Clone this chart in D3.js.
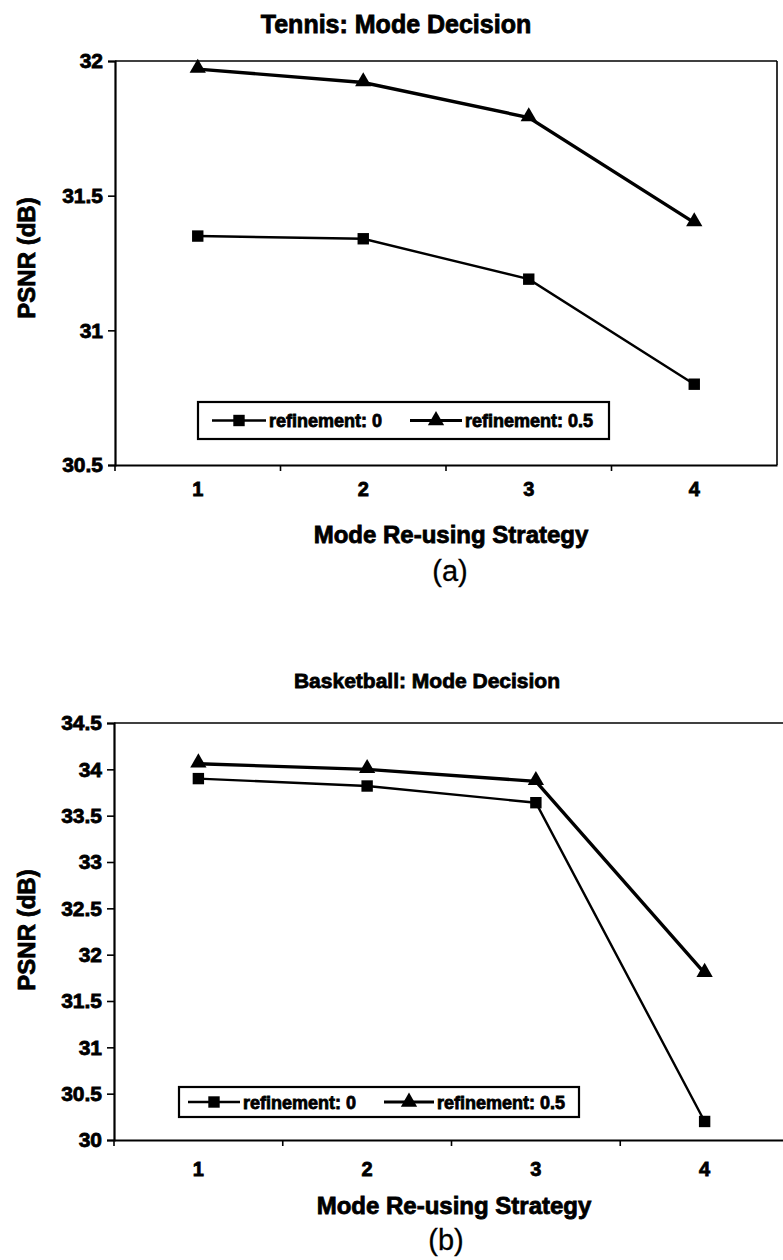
<!DOCTYPE html>
<html>
<head>
<meta charset="utf-8">
<script src="https://cdn.jsdelivr.net/npm/d3@7"></script>
<style>
  html, body { margin: 0; padding: 0; background: #fff; }
  svg { display: block; }
  .b { font-family: "Liberation Sans", Arial, sans-serif; font-weight: bold; fill: #000; stroke: #000; stroke-width: 0.8px; }
  .r { font-family: "Liberation Sans", Arial, sans-serif; font-weight: normal; fill: #000; stroke: #000; stroke-width: 0.3px; }
</style>
</head>
<body>
<svg id="fig" width="783" height="1260"></svg>
<script>
// ---- Data ----
const categories = ["1", "2", "3", "4"];
const seriesNames = ["refinement: 0", "refinement: 0.5"];
const tennisRef0  = [31.35, 31.34, 31.19, 30.80];
const tennisRef05 = [31.97, 31.92, 31.79, 31.40];
const basketRef0  = [33.90, 33.82, 33.64, 30.20];
const basketRef05 = [34.06, 34.00, 33.87, 31.80];
const tennisTicks = [30.5, 31, 31.5, 32];
const basketTicks = [30, 30.5, 31, 31.5, 32, 32.5, 33, 33.5, 34, 34.5];
const xTitle = "Mode Re-using Strategy";
const yTitle = "PSNR (dB)";

const svg = d3.select("#fig");

function drawPanel(cfg) {
  const g = svg.append("g");
  const x = d3.scaleBand().domain(categories).range([cfg.left, cfg.right]).paddingInner(0).paddingOuter(0);
  const y = d3.scaleLinear().domain(cfg.domain).range([cfg.bottom, cfg.top]);
  const cx = c => x(c) + x.bandwidth() / 2;

  // title
  g.append("text").attr("class", "b").attr("x", cfg.titleX).attr("y", cfg.titleY)
    .attr("text-anchor", "middle").style("font-size", cfg.titleSize + "px").text(cfg.title);

  // plot frame: top border and right border
  g.append("line").attr("x1", cfg.left).attr("x2", cfg.frameRight).attr("y1", cfg.top).attr("y2", cfg.top)
    .attr("stroke", "#000").attr("stroke-width", 1.6);
  g.append("line").attr("x1", cfg.frameRight).attr("x2", cfg.frameRight).attr("y1", cfg.top).attr("y2", cfg.bottom)
    .attr("stroke", "#000").attr("stroke-width", 1.6);

  // y axis
  const yAxis = d3.axisLeft(y).tickValues(cfg.ticks).tickSize(7).tickPadding(5)
    .tickFormat(d3.format("~g"));
  const ya = g.append("g").attr("transform", `translate(${cfg.left},0)`).call(yAxis);
  ya.select(".domain").attr("stroke", "#000").attr("stroke-width", 2.2);
  ya.selectAll(".tick line").attr("stroke", "#000").attr("stroke-width", 1.6);
  ya.selectAll(".tick text").attr("class", "b").style("font-size", "21px").attr("fill", "#000");

  // x axis with ticks at category boundaries
  const xa = g.append("g").attr("transform", `translate(0,${cfg.bottom})`)
    .call(d3.axisBottom(x).tickSize(0).tickPadding(cfg.xLabelPad));
  xa.select(".domain").attr("stroke", "#000").attr("stroke-width", 2.2);
  xa.selectAll(".tick text").attr("class", "b").style("font-size", "20px").attr("fill", "#000");
  xa.selectAll(".bnd").data(categories).enter().append("line")
    .attr("x1", c => x(c)).attr("x2", c => x(c)).attr("y1", 0).attr("y2", 6)
    .attr("stroke", "#000").attr("stroke-width", 1.6);

  // axis titles
  g.append("text").attr("class", "b").attr("x", cfg.xTitleX).attr("y", cfg.xTitleY)
    .attr("text-anchor", "middle").style("font-size", "24px").text(xTitle);
  g.append("text").attr("class", "b")
    .attr("transform", `translate(${cfg.yTitleX},${cfg.yTitleY}) rotate(-90)`)
    .attr("text-anchor", "middle").style("font-size", "24px").text(yTitle);
  g.append("text").attr("class", "r").attr("x", cfg.capX).attr("y", cfg.capY)
    .attr("text-anchor", "middle").style("font-size", "29px").text(cfg.caption);

  // lines
  const line = d3.line().x((d, i) => cx(categories[i])).y(d => y(d));
  g.append("path").datum(cfg.s0).attr("d", line).attr("fill", "none").attr("stroke", "#000").attr("stroke-width", 2.4);
  g.append("path").datum(cfg.s1).attr("d", line).attr("fill", "none").attr("stroke", "#000").attr("stroke-width", 3.4);

  const sq = d3.symbol().type(d3.symbolSquare).size(130);
  const tri = d3.symbol().type(d3.symbolTriangle).size(115);
  g.selectAll(".m0").data(cfg.s0).enter().append("path")
    .attr("d", sq).attr("transform", (d, i) => `translate(${cx(categories[i])},${y(d)})`).attr("fill", "#000");
  g.selectAll(".m1").data(cfg.s1).enter().append("path")
    .attr("d", tri).attr("transform", (d, i) => `translate(${cx(categories[i])},${y(d) - 1})`).attr("fill", "#000");

  // legend
  const L = cfg.legend;
  const lg = g.append("g");
  lg.append("rect").attr("x", L.x).attr("y", L.y).attr("width", L.w).attr("height", L.h)
    .attr("fill", "#fff").attr("stroke", "#000").attr("stroke-width", 2.2);
  const midY = L.y + L.h / 2;
  L.items.forEach((it, k) => {
    lg.append("line").attr("x1", it.x0).attr("x2", it.x1).attr("y1", midY).attr("y2", midY)
      .attr("stroke", "#000").attr("stroke-width", k === 0 ? 2.4 : 3.2);
    lg.append("path").attr("d", k === 0 ? sq : tri)
      .attr("transform", `translate(${(it.x0 + it.x1) / 2},${midY})`).attr("fill", "#000");
    lg.append("text").attr("class", "b").attr("x", it.x1 + 3).attr("y", midY + 6.5)
      .style("font-size", "18px").text(seriesNames[k]);
  });
}

drawPanel({
  title: "Tennis: Mode Decision", titleX: 396, titleY: 33, titleSize: 25,
  left: 115, right: 777, frameRight: 777, top: 61, bottom: 465,
  domain: [30.5, 32], ticks: tennisTicks, xLabelPad: 17,
  xTitleX: 451, xTitleY: 543, yTitleX: 35, yTitleY: 258,
  caption: "(a)", capX: 450, capY: 581,
  s0: tennisRef0, s1: tennisRef05,
  legend: { x: 198, y: 402, w: 411, h: 37,
    items: [{ x0: 212, x1: 266 }, { x0: 410, x1: 462 }] }
});

drawPanel({
  title: "Basketball: Mode Decision", titleX: 427, titleY: 688, titleSize: 21,
  left: 114, right: 789, frameRight: 789, top: 723, bottom: 1140,
  domain: [30, 34.5], ticks: basketTicks, xLabelPad: 22,
  xTitleX: 454, xTitleY: 1214, yTitleX: 35, yTitleY: 930,
  caption: "(b)", capX: 446, capY: 1250,
  s0: basketRef0, s1: basketRef05,
  legend: { x: 179, y: 1087, w: 400, h: 30,
    items: [{ x0: 188, x1: 240 }, { x0: 384, x1: 434 }] }
});
</script>
</body>
</html>
